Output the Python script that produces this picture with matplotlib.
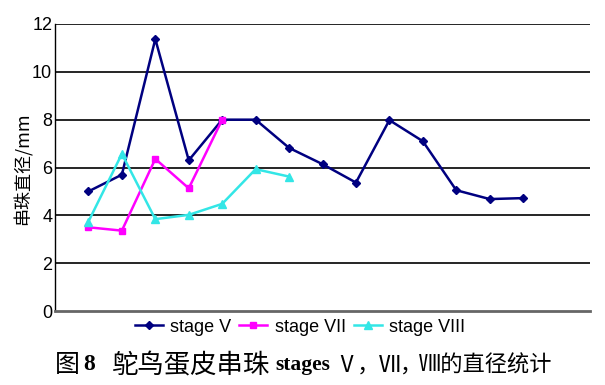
import matplotlib
matplotlib.use("Agg")
import matplotlib.pyplot as plt
import numpy as np

stage_v = [5.0, 5.7, 11.37, 6.3, 8.0, 8.0, 6.82, 6.14, 5.37, 7.98, 7.1, 5.05, 4.68, 4.72]
stage_vii = [3.5, 3.36, 6.36, 5.13, 8.0]
stage_viii = [3.74, 6.57, 3.84, 4.02, 4.48, 5.93, 5.62]
labels = ["stage V", "stage VII", "stage VIII"]
yticks = [0, 2, 4, 6, 8, 10, 12]

W, H = 605, 385
fig = plt.figure(figsize=(W / 100, H / 100), dpi=100)
ax = fig.add_axes([55 / W, 1 - 311 / H, (590 - 55) / W, (311 - 24) / H])

x_v = np.arange(1, len(stage_v) + 1)
x_vii = np.arange(1, len(stage_vii) + 1)
x_viii = np.arange(1, len(stage_viii) + 1)

ax.plot(x_v, stage_v, color="#000080", lw=1.8, marker="D", ms=4, label=labels[0])
ax.plot(x_vii, stage_vii, color="#FF00FF", lw=1.8, marker="s", ms=5, label=labels[1])
ax.plot(x_viii, stage_viii, color="#33E6E6", lw=1.8, marker="^", ms=5.5, label=labels[2])

ax.set_xlim(0, 16)
ax.set_ylim(0, 12)
ax.set_yticks(yticks)
ax.set_xticks([])
for y in yticks[1:]:
    ax.axhline(y, color="black", lw=1.2, zorder=0)
for s in ["top", "right"]:
    ax.spines[s].set_visible(False)
ax.spines["bottom"].set_color("#666666")
ax.spines["bottom"].set_linewidth(2)
ax.spines["left"].set_color("black")
ax.spines["left"].set_linewidth(1)
ax.tick_params(axis="y", length=0, pad=2, labelsize=13)
for t in ax.get_yticklabels():
    t.set_family("Liberation Sans")
ax.set_ylabel("串珠直径/mm", family=["Noto Sans CJK SC", "DejaVu Sans"], fontsize=13)
ax.yaxis.set_label_coords(-0.042, 0.495)

leg = ax.legend(loc="center", bbox_to_anchor=(0.458, -0.056), ncol=3, frameon=False,
                prop={"family": "Liberation Sans", "size": 13}, handlelength=1.55,
                handletextpad=0.4, columnspacing=0.45, borderaxespad=0.0, borderpad=0.0)

# caption pieces with their left positions (px)
cjk = ["Noto Sans CJK SC", "DejaVu Sans"]
yc = 1 - 365 / H
pieces = [
    ("图", dict(family=cjk, fontsize=18), 55),
    ("8", dict(family="Liberation Serif", weight="bold", fontsize=17), 83),
    ("鸵鸟蛋皮串珠", dict(family=cjk, fontsize=19), 112),
    ("stages", dict(family="Liberation Serif", weight="bold", fontsize=15.5), 275),
    ("Ⅴ，", dict(family=cjk, fontsize=16), 335),
    ("Ⅶ，", dict(family=cjk, fontsize=16), 379),
    ("Ⅷ的直径统计", dict(family=cjk, fontsize=16), 419),
]
for txt, kw, xp in pieces:
    fig.text(xp / W, yc, txt, va="center", ha="left", **kw)

fig.savefig("out.png", dpi=100)
